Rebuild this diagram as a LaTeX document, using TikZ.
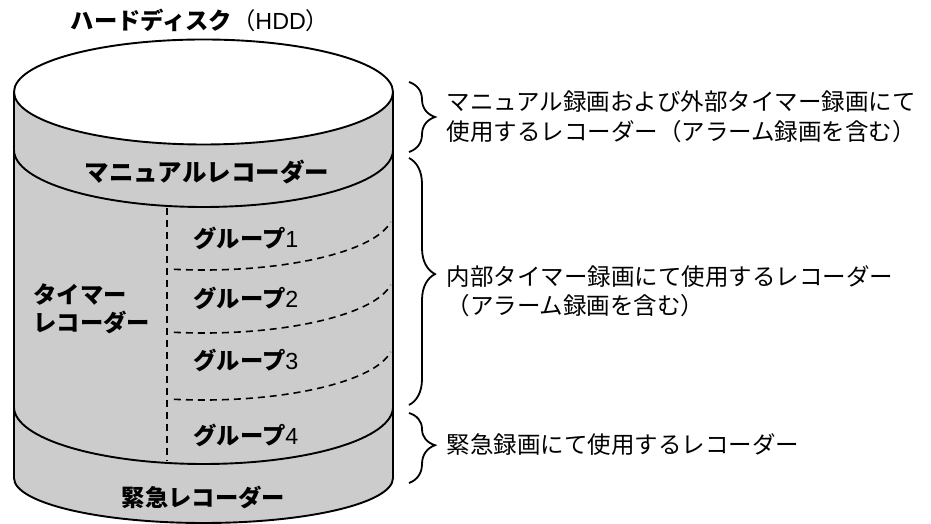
\documentclass[tikz,border=0pt]{standalone}
\usepackage{fontspec}
\setmainfont{Liberation Sans}
\newfontfamily\jp{Noto Sans CJK JP}
\usetikzlibrary{decorations.pathreplacing}

\begin{document}
\begin{tikzpicture}[x=1pt,y=1pt,
  wall/.style={line width=1.9pt},
  sep/.style={line width=1.6pt,dash pattern=on 7pt off 5pt},
  bold/.style={font=\fontsize{23.3}{28}\selectfont\jp\bfseries,align=left},
  note/.style={font=\fontsize{23.5}{29.5}\selectfont\jp,align=left,anchor=west},
  curly/.style={decorate,decoration={brace,amplitude=26pt,aspect=#1},line width=1.8pt}]
\useasboundingbox (0,0) rectangle (931,524);
% disk body
\fill[gray!40] (14,432) -- (14,46) arc[start angle=180,end angle=360,x radius=189.5,y radius=45] -- (393,432) -- cycle;
\draw[wall] (14,374) arc[start angle=180,end angle=360,x radius=189.5,y radius=57];
\draw[wall] (14,117) arc[start angle=180,end angle=360,x radius=189.5,y radius=57];
\draw[wall] (14,432) -- (14,46) arc[start angle=180,end angle=360,x radius=189.5,y radius=45] -- (393,432);
\draw[wall,fill=white] (203.5,432) ellipse[x radius=189.5,y radius=52.5];
% group separators
\coordinate (v1) at (167,316);
\coordinate (v2) at (167,63);
\draw[sep] (v1) -- (v2);
\foreach \c in {311,248,181}
  \draw[sep] (203.5,\c) ++(261:189.5 and 57) arc[start angle=261,end angle=351,x radius=189.5,y radius=57];
% labels on the disk
\node[bold] (title) at (200,504) {ハードディスク{\mdseries（}{\normalfont HDD}{\mdseries）}};
\node[bold,font=\fontsize{24.5}{28}\selectfont\jp\bfseries] (manual) at (207,352) {マニュアルレコーダー};
\node[bold,anchor=west] (timer) at (30,215) {タイマー\\レコーダー};
\node[bold,anchor=west] (g1) at (190,286) {グループ{\normalfont 1}};
\node[bold,anchor=west] (g2) at (190,226) {グループ{\normalfont 2}};
\node[bold,anchor=west] (g3) at (190,164) {グループ{\normalfont 3}};
\node[bold,anchor=west] (g4) at (190,89) {グループ{\normalfont 4}};
\node[bold] (emerg) at (203.5,27) {緊急レコーダー};
% braces and notes
\coordinate (b1t) at (409,442);
\coordinate (b1b) at (409,372);
\coordinate (b2t) at (409,366);
\coordinate (b2b) at (409,119);
\coordinate (b3t) at (409,111);
\coordinate (b3b) at (409,41);
\draw[curly=0.5] (b1t) -- (b1b);
\draw[curly=0.47] (b2t) -- (b2b);
\draw[curly=0.46] (b3t) -- (b3b);
\node[note] (n1) at (443,407) {マニュアル録画および外部タイマー録画にて\\使用するレコーダー（アラーム録画を含む）};
\node[note] (n2) at (443,233) {内部タイマー録画にて使用するレコーダー\\（アラーム録画を含む）};
\node[note] (n3) at (443,79) {緊急録画にて使用するレコーダー};
\end{tikzpicture}
\end{document}
